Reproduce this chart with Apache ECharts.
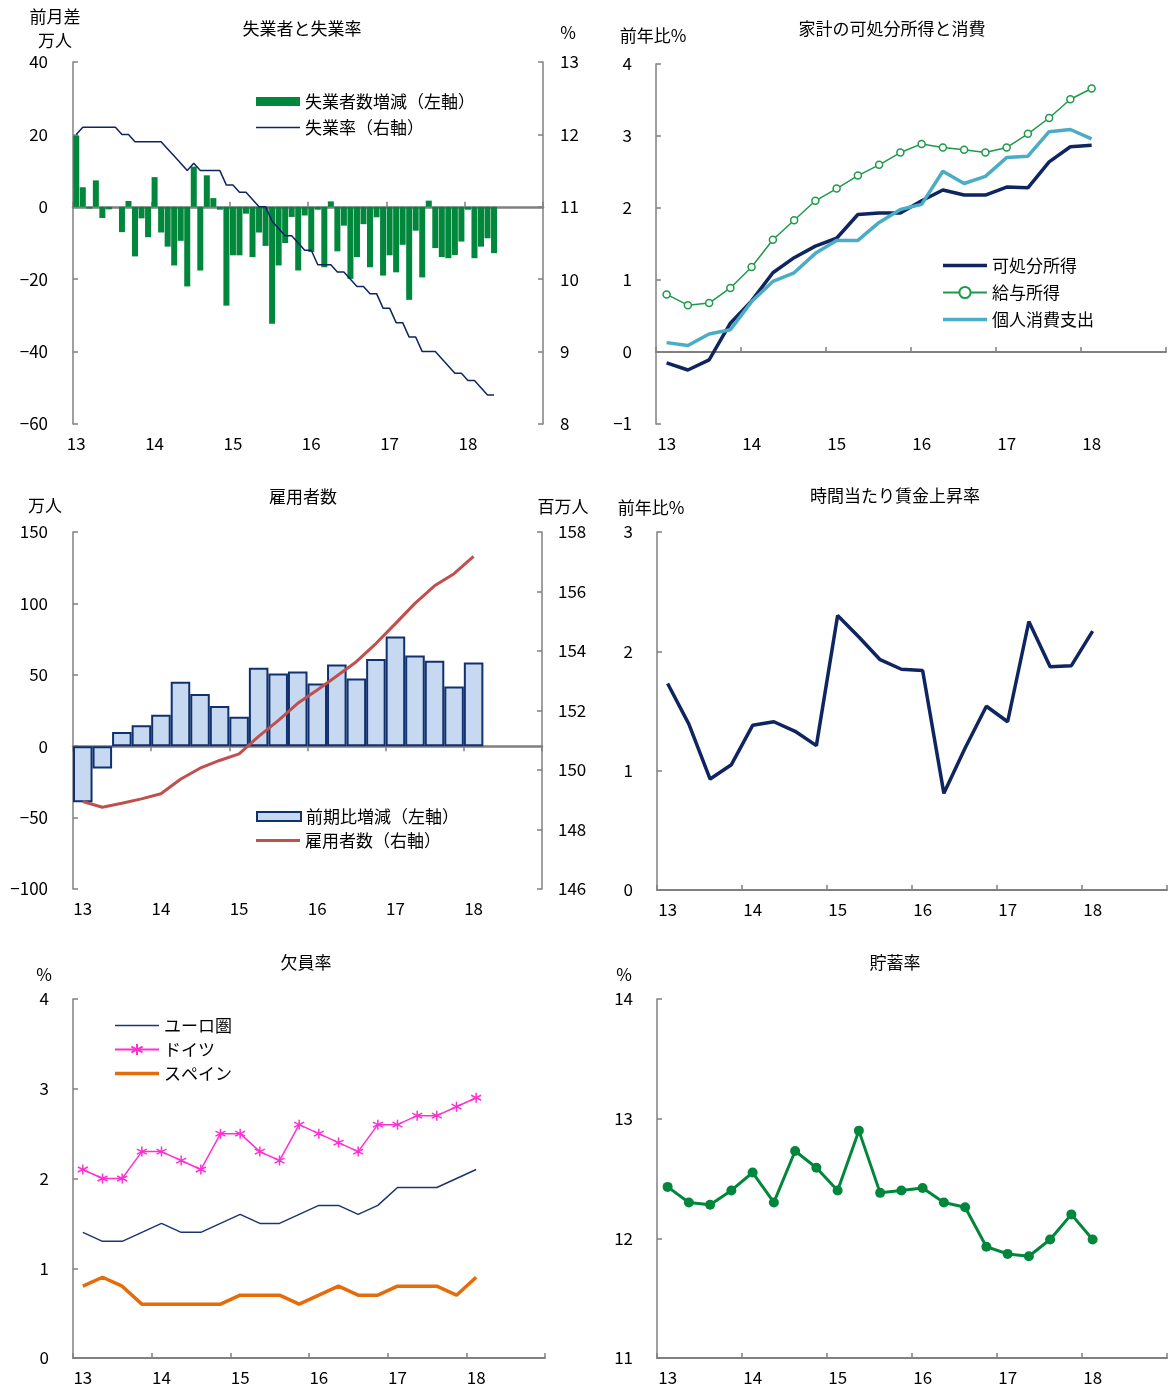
<!DOCTYPE html>
<html><head><meta charset="utf-8">
<script src="https://cdn.jsdelivr.net/npm/echarts@6/dist/echarts.min.js"></script>
<style>html,body{margin:0;background:#fff}#c{width:1168px;height:1387px}</style>
</head><body><div id="c"></div>
<script>
// ---------- data ----------
const years = ['13','14','15','16','17','18'];
const monthCats = years.flatMap(y => Array.from({length:12}, (_, m) => y + '/' + (m + 1)));
const quarterCats = years.flatMap(y => ['Q1','Q2','Q3','Q4'].map(q => y + q));

// Panel 1: 失業者と失業率 (monthly, 2013/1 - 2018/5)
const unempChange = [19.7, 5.4, -0.5, 7.3, -3.1, -0.7, 0, -7.0, 1.6, -13.7,
  -3.2, -8.4, 8.2, -7.1, -11.0, -16.2, -9.4, -22.0, 11.1, -17.6,
  8.7, 2.4, -0.8, -27.3, -13.4, -13.4, -1.9, -13.9, -7.1, -10.8,
  -32.3, -16.2, -10.0, -2.8, -17.6, -2.4, -12.5, -0.8, -16.7, 1.5,
  -12.3, -5.2, -19.9, -13.9, -4.8, -16.7, -2.9, -19.0, -13.4, -18.1,
  -10.5, -25.7, -6.6, -19.5, 1.7, -11.4, -13.9, -14.2, -13.3, -9.6,
  -0.8, -14.2, -11.0, -8.7, -12.8];
const unempRate = [12.0, 12.1, 12.1, 12.1, 12.1, 12.1, 12.1, 12.0, 12.0, 11.9,
  11.9, 11.9, 11.9, 11.9, 11.8, 11.7, 11.6, 11.5, 11.6, 11.5,
  11.5, 11.5, 11.5, 11.3, 11.3, 11.2, 11.2, 11.1, 11.0, 11.0,
  10.8, 10.7, 10.6, 10.6, 10.5, 10.4, 10.4, 10.2, 10.2, 10.2,
  10.1, 10.1, 10.0, 9.9, 9.9, 9.8, 9.8, 9.6, 9.6, 9.4,
  9.4, 9.2, 9.2, 9.0, 9.0, 9.0, 8.9, 8.8, 8.7, 8.7,
  8.6, 8.6, 8.5, 8.4, 8.4];

// Panel 2: 家計の可処分所得と消費 (quarterly)
const disposableIncome = [-0.15, -0.25, -0.11, 0.40, 0.71, 1.10, 1.31, 1.47, 1.58, 1.91,
  1.93, 1.93, 2.10, 2.25, 2.18, 2.18, 2.29, 2.28, 2.64, 2.85, 2.87];
const wageIncome = [0.80, 0.65, 0.68, 0.89, 1.18, 1.56, 1.83, 2.10, 2.27, 2.45,
  2.60, 2.77, 2.89, 2.84, 2.81, 2.77, 2.84, 3.03, 3.25, 3.51, 3.66];
const consumption = [0.13, 0.09, 0.25, 0.31, 0.70, 0.98, 1.10, 1.37, 1.55, 1.55,
  1.80, 1.98, 2.05, 2.51, 2.34, 2.44, 2.70, 2.72, 3.06, 3.09, 2.96];

// Panel 3: 雇用者数 (quarterly)
const employChange = [-39.2, -15.7, 9.9, 14.6, 22.1, 45.1, 36.6, 28.2, 20.7, 54.9,
  50.9, 52.3, 43.9, 57.3, 47.4, 61.0, 76.8, 63.6, 59.9, 41.8, 58.7];
const employment = [148.94, 148.75, 148.88, 149.03, 149.20, 149.69, 150.06, 150.32, 150.54, 151.13,
  151.66, 152.24, 152.69, 153.16, 153.64, 154.25, 154.92, 155.60, 156.19, 156.60, 157.18];

// Panel 4: 時間当たり賃金上昇率 (quarterly)
const hourlyWage = [1.73, 1.39, 0.93, 1.05, 1.38, 1.41, 1.33, 1.21, 2.30, 2.12,
  1.93, 1.85, 1.84, 0.81, 1.19, 1.54, 1.41, 2.25, 1.87, 1.88, 2.17];

// Panel 5: 欠員率 (quarterly)
const vacEuro = [1.4, 1.3, 1.3, 1.4, 1.5, 1.4, 1.4, 1.5, 1.6, 1.5,
  1.5, 1.6, 1.7, 1.7, 1.6, 1.7, 1.9, 1.9, 1.9, 2.0, 2.1];
const vacGermany = [2.1, 2.0, 2.0, 2.3, 2.3, 2.2, 2.1, 2.5, 2.5, 2.3,
  2.2, 2.6, 2.5, 2.4, 2.3, 2.6, 2.6, 2.7, 2.7, 2.8, 2.9];
const vacSpain = [0.8, 0.9, 0.8, 0.6, 0.6, 0.6, 0.6, 0.6, 0.7, 0.7,
  0.7, 0.6, 0.7, 0.8, 0.7, 0.7, 0.8, 0.8, 0.8, 0.7, 0.9];

// Panel 6: 貯蓄率 (quarterly)
const savingRate = [12.43, 12.30, 12.28, 12.40, 12.55, 12.30, 12.73, 12.59, 12.40, 12.90,
  12.38, 12.40, 12.42, 12.30, 12.26, 11.93, 11.87, 11.85, 11.99, 12.20, 11.99];

// ---------- styling helpers ----------
const FONT = '"Noto Sans CJK JP", "Noto Sans", sans-serif';
const AX = '#808080';
const FS = 17;
const minus = v => String(v).replace('-', '\u2212');

function yAx(grid, min, max, interval, pos, margin) {
  return {
    type: 'value', gridIndex: grid, min, max, interval, position: pos,
    axisLine: {show: true, onZero: false, lineStyle: {color: AX, width: 1.5}},
    axisTick: {show: true, inside: true, length: 5, lineStyle: {color: AX, width: 1.5}},
    splitLine: {show: false},
    axisLabel: {color: '#000', fontSize: FS, fontFamily: FONT, margin, formatter: minus}
  };
}
function xLabelAx(grid, cats, per) {
  return {
    type: 'category', gridIndex: grid, data: cats, boundaryGap: true, position: 'bottom',
    axisLine: {show: false, onZero: false}, axisTick: {show: false}, splitLine: {show: false},
    axisLabel: {interval: i => i % per === 0, formatter: v => v.slice(0, 2),
      color: '#000', fontSize: FS, fontFamily: FONT, margin: 11}
  };
}
function xLineAx(grid, cats, per, onZero, inside, width, withLabels) {
  return {
    type: 'category', gridIndex: grid, data: cats, boundaryGap: true, position: 'bottom',
    axisLine: {show: true, onZero: onZero, lineStyle: {color: AX, width}},
    axisTick: {show: true, interval: i => i % per === 0, inside, length: 5, lineStyle: {color: AX, width: 1.5}},
    splitLine: {show: false},
    axisLabel: withLabels ? {interval: i => i % per === 0, formatter: v => v.slice(0, 2),
      color: '#000', fontSize: FS, fontFamily: FONT, margin: 11} : {show: false}
  };
}
function txt(t, x, y) {
  return {type: 'text', x, y, silent: true,
    style: {text: t, fill: '#000', fontSize: FS, fontFamily: FONT, align: 'center', verticalAlign: 'middle'}};
}
// legend line icons (44 x 14 box, horizontal stroke of the given thickness)
function lineIcon(w) {
  const a = 7 - w / 2, b = 7 + w / 2;
  return 'path://M0,0M0,' + a + 'H44V' + b + 'H0ZM44,14';
}
const legendText = {color: '#000', fontSize: FS, fontFamily: FONT};
const legendBase = {orient: 'vertical', itemWidth: 44, itemHeight: 14, padding: 0, textStyle: legendText};

const C_GREEN = '#00873C';
const C_NAVY = '#0E2560';
const C_LBLUE = '#4BACC6';
const C_WGREEN = '#1E9A4A';
const C_RED = '#C0504D';
const C_MAG = '#FF2FD2';
const C_ORANGE = '#E46C0A';

const asterisk = 'path://M5,0L5,10M0.7,2.5L9.3,7.5M0.7,7.5L9.3,2.5';

const option = {
  backgroundColor: '#fff',
  animation: false,
  textStyle: {fontFamily: FONT},
  grid: [
    {left: 73, top: 62, width: 470, height: 362},
    {left: 656, top: 64, width: 510, height: 360},
    {left: 73, top: 532, width: 469, height: 357},
    {left: 657, top: 532, width: 510, height: 358},
    {left: 73, top: 999, width: 472, height: 359},
    {left: 657, top: 999, width: 510, height: 359}
  ],
  xAxis: [
    xLabelAx(0, monthCats, 12),                         // 0
    xLineAx(0, monthCats, 12, true, true, 2.5, false),  // 1
    xLabelAx(1, quarterCats, 4),                        // 2
    xLineAx(1, quarterCats, 4, true, true, 2, false),   // 3
    xLabelAx(2, quarterCats, 4),                        // 4
    xLineAx(2, quarterCats, 4, true, false, 2.5, false),// 5
    xLineAx(3, quarterCats, 4, false, true, 2, true),   // 6
    xLineAx(4, quarterCats, 4, false, true, 2, true),   // 7
    xLineAx(5, quarterCats, 4, false, true, 2, true)    // 8
  ],
  yAxis: [
    yAx(0, -60, 40, 20, 'left', 25),    // 0
    yAx(0, 8, 13, 1, 'right', 17),      // 1
    yAx(1, -1, 4, 1, 'left', 24),       // 2
    yAx(2, -100, 150, 50, 'left', 25),  // 3
    yAx(2, 146, 158, 2, 'right', 16),   // 4
    yAx(3, 0, 3, 1, 'left', 24),        // 5
    yAx(4, 0, 4, 1, 'left', 24),        // 6
    yAx(5, 11, 14, 1, 'left', 24)       // 7
  ],
  legend: [
    Object.assign({}, legendBase, {left: 256, top: 93, itemHeight: 9,
      data: [{name: '失業者数増減（左軸）', icon: 'rect'}]}),
    Object.assign({}, legendBase, {left: 256, top: 119,
      data: [{name: '失業率（右軸）', icon: lineIcon(1.5)}]}),
    Object.assign({}, legendBase, {left: 942, top: 257, itemGap: 10,
      data: [{name: '可処分所得', icon: lineIcon(3.5)}, '給与所得', {name: '個人消費支出', icon: lineIcon(3.5)}]}),
    Object.assign({}, legendBase, {left: 256, top: 808, itemHeight: 9,
      data: [{name: '前期比増減（左軸）', icon: 'rect'}]}),
    Object.assign({}, legendBase, {left: 256, top: 832,
      data: [{name: '雇用者数（右軸）', icon: lineIcon(3)}]}),
    Object.assign({}, legendBase, {left: 114, top: 1017, itemGap: 7,
      data: [{name: 'ユーロ圏', icon: lineIcon(1.5)}, 'ドイツ', {name: 'スペイン', icon: lineIcon(3.5)}]})
  ],
  graphic: [
    txt('失業者と失業率', 302, 29), txt('前月差', 55, 17), txt('万人', 55, 41), txt('%', 568, 33),
    txt('家計の可処分所得と消費', 892, 29), txt('前年比%', 653, 36),
    txt('雇用者数', 303, 497), txt('万人', 45, 506), txt('百万人', 563, 507),
    txt('時間当たり賃金上昇率', 895, 496), txt('前年比%', 651, 508),
    txt('欠員率', 306, 963), txt('%', 44, 975),
    txt('貯蓄率', 895, 963), txt('%', 624, 975)
  ],
  series: [
    {name: '失業者数増減（左軸）', type: 'bar', xAxisIndex: 0, yAxisIndex: 0, data: unempChange,
      barCategoryGap: '8%', itemStyle: {color: C_GREEN}},
    {name: '失業率（右軸）', type: 'line', xAxisIndex: 0, yAxisIndex: 1, data: unempRate,
      symbol: 'none', lineStyle: {color: C_NAVY, width: 1.5}, itemStyle: {color: C_NAVY}},

    {name: '可処分所得', type: 'line', xAxisIndex: 2, yAxisIndex: 2, data: disposableIncome,
      symbol: 'none', lineStyle: {color: C_NAVY, width: 3.5}, itemStyle: {color: C_NAVY}},
    {name: '給与所得', type: 'line', xAxisIndex: 2, yAxisIndex: 2, data: wageIncome,
      symbol: 'circle', symbolSize: 7, lineStyle: {color: C_WGREEN, width: 1.5},
      itemStyle: {color: '#fff', borderColor: C_WGREEN, borderWidth: 1.5}},
    {name: '個人消費支出', type: 'line', xAxisIndex: 2, yAxisIndex: 2, data: consumption,
      symbol: 'none', lineStyle: {color: C_LBLUE, width: 3.5}, itemStyle: {color: C_LBLUE}},

    {name: '前期比増減（左軸）', type: 'bar', xAxisIndex: 4, yAxisIndex: 3, data: employChange,
      barCategoryGap: '0%', itemStyle: {color: '#C6D9F1', borderColor: '#10306E', borderWidth: 2}},
    {name: '雇用者数（右軸）', type: 'line', xAxisIndex: 4, yAxisIndex: 4, data: employment,
      symbol: 'none', lineStyle: {color: C_RED, width: 3}, itemStyle: {color: C_RED}},

    {name: '時間当たり賃金上昇率', type: 'line', xAxisIndex: 6, yAxisIndex: 5, data: hourlyWage,
      symbol: 'none', lineStyle: {color: C_NAVY, width: 3.5}, itemStyle: {color: C_NAVY}},

    {name: 'ユーロ圏', type: 'line', xAxisIndex: 7, yAxisIndex: 6, data: vacEuro,
      symbol: 'none', lineStyle: {color: '#1B3570', width: 1.5}, itemStyle: {color: '#1B3570'}},
    {name: 'ドイツ', type: 'line', xAxisIndex: 7, yAxisIndex: 6, data: vacGermany,
      symbol: asterisk, symbolSize: 10, lineStyle: {color: C_MAG, width: 1.5},
      itemStyle: {color: C_MAG, borderColor: C_MAG, borderWidth: 1.5}},
    {name: 'スペイン', type: 'line', xAxisIndex: 7, yAxisIndex: 6, data: vacSpain,
      symbol: 'none', lineStyle: {color: C_ORANGE, width: 3.5}, itemStyle: {color: C_ORANGE}},

    {name: '貯蓄率', type: 'line', xAxisIndex: 8, yAxisIndex: 7, data: savingRate,
      symbol: 'circle', symbolSize: 10, lineStyle: {color: C_GREEN, width: 3},
      itemStyle: {color: C_GREEN}}
  ]
};

const chart = echarts.init(document.getElementById('c'), null, {renderer: 'canvas'});
chart.setOption(option);
</script>
</body></html>
